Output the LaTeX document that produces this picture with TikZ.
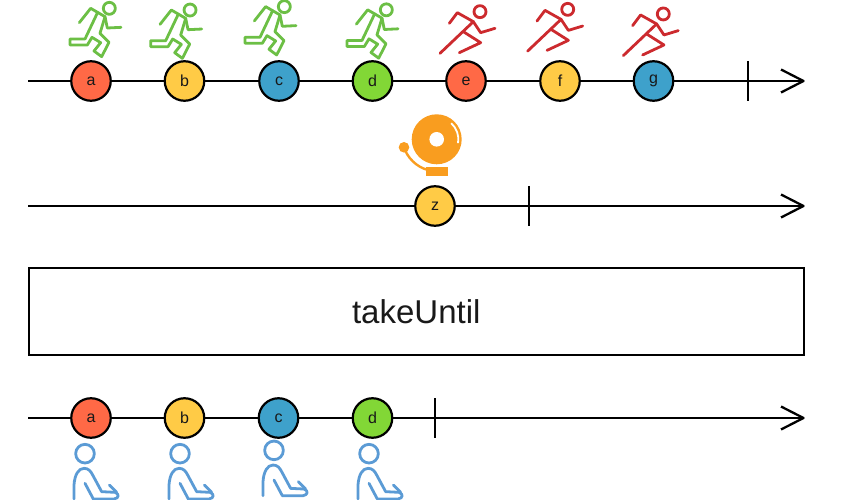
\documentclass[tikz,border=0pt]{standalone}
\usepackage{fontspec}
\setmainfont{Liberation Sans}
\definecolor{mred}{HTML}{FF6946}
\definecolor{myel}{HTML}{FFCB46}
\definecolor{mblu}{HTML}{3EA1CB}
\definecolor{mgrn}{HTML}{82D736}
\definecolor{rungreen}{HTML}{6CBF45}
\definecolor{runred}{HTML}{CC2A2E}
\definecolor{bellor}{HTML}{F99D1F}
\definecolor{sitblue}{HTML}{5B9BD5}
\tikzset{
  marble/.style={circle,draw=black,line width=2.2pt,minimum size=39.5pt,inner sep=0pt,font=\fontsize{16}{17}\selectfont,text=black!90},
  tline/.style={draw=black,line width=2pt},
  tickline/.style={draw=black,line width=2pt},
  headline/.style={draw=black,line width=2.3pt,line join=round},
  icon/.style={line width=2.8pt,line cap=round,line join=round},
  greenrun/.pic={
    \begin{scope}[xscale=1/3,yscale=1/3,icon,draw=rungreen]
    \draw (178,25) circle (18);
    \draw (88,68) -- (122,25) -- (165,50) -- (172,84) -- (213,82);
    \draw (165,50) -- (150,100) -- (177,127) -- (155,170) -- (132,153) -- (152,128) -- (126,112) -- (112,135) -- (60,135) -- (60,117) -- (105,117) -- (143,37);
    \end{scope}
  },
  redrun/.pic={
    \begin{scope}[xscale=1/3,yscale=1/3,icon,draw=runred]
    \draw (180,35) circle (18);
    \draw (88,70) -- (112,38) -- (160,65) -- (182,98) -- (225,85);
    \draw (160,65) -- (60,160);
    \draw (130,95) -- (182,128) -- (118,158);
    \end{scope}
  },
  sitter/.pic={
    \begin{scope}[xscale=1/3,yscale=1/3,icon,draw=sitblue]
    \draw (105,176) circle (28);
    \draw (72,312) -- (72,270) .. controls (74,240) and (85,220) .. (102,220) .. controls (115,220) and (122,228) .. (128,240) -- (155,290) -- (195,292) .. controls (208,296) and (208,310) .. (192,312) -- (130,312) -- (105,265);
    \draw (178,270) -- (200,292);
    \end{scope}
  }
}
\begin{document}
\begin{tikzpicture}[x=1pt,y=-1pt]
\clip (0,0) rectangle (841,500);
% timeline 1
\coordinate (s1) at (28,81); \coordinate (e1) at (803.5,81);
\coordinate (u1) at (781,69.5); \coordinate (l1) at (781,92.5);
\coordinate (t1a) at (747.5,61); \coordinate (t1b) at (747.5,101);
\draw[tline] (s1) -- (e1);
\draw[headline] (u1) -- (e1) -- (l1);
\draw[tickline] (t1a) -- (t1b);
\node[marble,fill=mred] (a1) at (91,81) {a};
\node[marble,fill=myel] (b1) at (184.5,81) {b};
\node[marble,fill=mblu] (c1) at (279,81) {c};
\node[marble,fill=mgrn] (d1) at (372.5,81) {d};
\node[marble,fill=mred] (e1n) at (466,81) {e};
\node[marble,fill=myel] (f1) at (560,81) {f};
\node[marble,fill=mblu] (g1) at (653.5,81) {g};
\pic at (50,0) {greenrun};
\pic at (130.7,1.7) {greenrun};
\pic at (225,-1.7) {greenrun};
\pic at (327,1.5) {greenrun};
\pic at (420,0) {redrun};
\pic at (507.7,-2.3) {redrun};
\pic at (603.3,2.3) {redrun};
% timeline 2
\coordinate (s2) at (28,206); \coordinate (e2) at (803.5,206);
\coordinate (u2) at (781,194.5); \coordinate (l2) at (781,217.5);
\coordinate (t2a) at (528.5,186); \coordinate (t2b) at (528.5,226);
\draw[tline] (s2) -- (e2);
\draw[headline] (u2) -- (e2) -- (l2);
\draw[tickline] (t2a) -- (t2b);
\node[marble,fill=myel] (z2) at (435,206) {z};
% bell
\fill[bellor] (436.7,139.3) circle (25);
\fill[white] (436.7,139.3) circle (7.3);
\draw[white,line width=1.8pt] (451.2,123.2) arc[start angle=-48,end angle=10,radius=21.7];
\draw[bellor,line width=2.4pt] (404,147.3) .. controls (407,157) and (416,167) .. (428,170);
\fill[bellor] (404,147.3) circle (5.3);
\fill[bellor] (425.7,167.3) rectangle (448.3,176);
% operator box
\node[draw=black,line width=2pt,minimum width=775.5pt,minimum height=87pt,inner sep=0pt,font=\fontsize{33}{36}\selectfont,text=black!90] (op) at (416.25,311.5) {takeUntil};
% timeline 3
\coordinate (s3) at (28,418); \coordinate (e3) at (803.5,418);
\coordinate (u3) at (781,406.5); \coordinate (l3) at (781,429.5);
\coordinate (t3a) at (435,398); \coordinate (t3b) at (435,438);
\draw[tline] (s3) -- (e3);
\draw[headline] (u3) -- (e3) -- (l3);
\draw[tickline] (t3a) -- (t3b);
\node[marble,fill=mred] (a3) at (91,418) {a};
\node[marble,fill=myel] (b3) at (184.5,418) {b};
\node[marble,fill=mblu] (c3) at (278.5,418) {c};
\node[marble,fill=mgrn] (d3) at (372.5,418) {d};
\pic at (50,395) {sitter};
\pic at (145,395) {sitter};
\pic at (239,391.7) {sitter};
\pic at (334,395) {sitter};
\end{tikzpicture}
\end{document}
